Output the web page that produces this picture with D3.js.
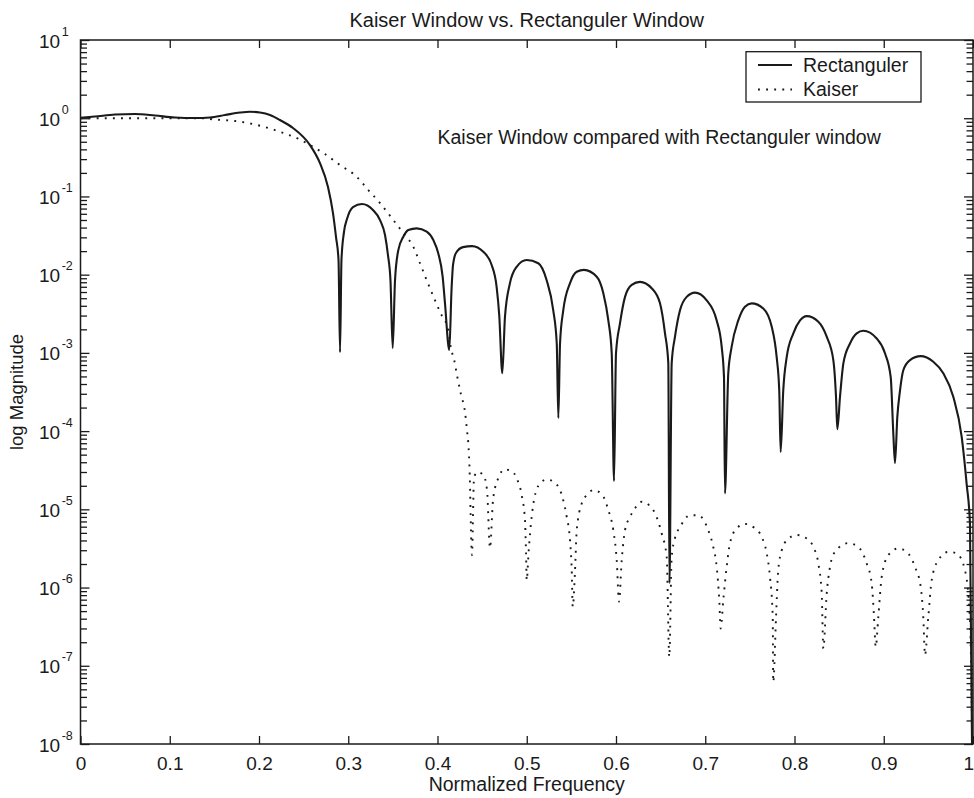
<!DOCTYPE html>
<html>
<head>
<meta charset="utf-8">
<script src="https://cdn.jsdelivr.net/npm/d3@7"></script>
<style>
  html, body { margin: 0; padding: 0; background: #fff; }
  svg { display: block; font-family: "Liberation Sans", Arial, Helvetica, sans-serif; }
</style>
</head>
<body>
<svg id="chart" width="974" height="798"></svg>
<script>
// Frequency axis ticks
const xTickValues = [0, 0.1, 0.2, 0.3, 0.4, 0.5, 0.6, 0.7, 0.8, 0.9, 1];
const xTickLabels = ["0", "0.1", "0.2", "0.3", "0.4", "0.5", "0.6", "0.7", "0.8", "0.9", "1"];
// Magnitude axis decades (10^n)
const yExponents = [-8, -7, -6, -5, -4, -3, -2, -1, 0, 1];

const seriesNames = ["Rectanguler", "Kaiser"];

// Rectangular-window response: [normalized frequency, magnitude]
const rectangular = [
  [0, 1.015], [0.0162, 1.051], [0.0387, 1.115], [0.0611, 1.132], [0.0835, 1.083], [0.1059, 1.021],
  [0.1283, 1.006], [0.1451, 1.021], [0.1619, 1.099], [0.1787, 1.183], [0.1899, 1.211], [0.2011, 1.183],
  [0.2123, 1.099], [0.2235, 0.948], [0.2381, 0.749], [0.2571, 0.454], [0.2683, 0.267], [0.2773, 0.132],
  [0.2829, 0.0613], [0.2863, 0.0303], [0.2891, 0.0154], [0.2908, 1.02e-3],
  [0.2924, 0.0154], [0.2952, 0.0351], [0.2986, 0.0514], [0.3053, 0.0732], [0.3154, 0.0799], [0.3277, 0.0670],
  [0.3356, 0.0499], [0.3412, 0.0321], [0.3445, 0.0178], [0.3473, 8.5e-3], [0.3498, 1.15e-3],
  [0.3524, 8.5e-3], [0.3561, 0.0206], [0.3617, 0.0305], [0.3673, 0.0372], [0.3767, 0.0391], [0.3879, 0.0354],
  [0.3953, 0.0277], [0.4009, 0.0187], [0.4058, 9.4e-3], [0.4084, 4.3e-3], [0.4132, 1.09e-3],
  [0.4157, 6.35e-3], [0.4174, 0.0133], [0.4207, 0.0189], [0.4286, 0.0225], [0.4387, 0.0232], [0.4513, 0.0196],
  [0.4607, 0.0133], [0.4663, 6.9e-3], [0.4692, 3.0e-3], [0.4726, 5.5e-4],
  [0.4756, 2.9e-3], [0.4812, 7.8e-3], [0.4887, 0.0126], [0.4999, 0.0154], [0.5129, 0.0140], [0.5223, 8.5e-3],
  [0.5297, 3.5e-3], [0.5336, 1.33e-3], [0.5354, 1.47e-4],
  [0.5373, 1.33e-3], [0.5409, 3.5e-3], [0.5485, 7.8e-3], [0.5560, 0.0109], [0.5641, 0.0115], [0.5784, 9.4e-3],
  [0.5858, 5.8e-3], [0.5914, 2.6e-3], [0.5952, 9.9e-4], [0.5978, 2.3e-5],
  [0.6000, 9.9e-4], [0.6045, 2.4e-3], [0.6101, 5.2e-3], [0.6176, 7.4e-3], [0.6269, 8.1e-3], [0.6400, 6.7e-3],
  [0.6493, 4.3e-3], [0.6549, 1.78e-3], [0.6586, 7.4e-4], [0.6599, 1.14e-6],
  [0.6624, 7.4e-4], [0.6661, 1.61e-3], [0.6717, 3.5e-3], [0.6792, 5.2e-3], [0.6885, 5.9e-3], [0.7016, 4.7e-3],
  [0.7128, 2.6e-3], [0.7184, 1.2e-3], [0.7210, 4.9e-4], [0.7221, 1.6e-5],
  [0.7258, 5.5e-4], [0.7296, 1.2e-3], [0.7370, 2.6e-3], [0.7445, 3.9e-3], [0.7520, 4.3e-3], [0.7650, 3.7e-3],
  [0.7745, 2.16e-3], [0.7800, 8.9e-4], [0.7829, 3.3e-4], [0.7845, 5.4e-5],
  [0.7874, 3.3e-4], [0.7913, 8.9e-4], [0.7987, 1.78e-3], [0.8062, 2.6e-3], [0.8137, 2.95e-3], [0.8267, 2.5e-3],
  [0.8361, 1.61e-3], [0.8435, 8.1e-4], [0.8465, 2.75e-4], [0.8480, 1.06e-4],
  [0.8510, 2.75e-4], [0.8547, 7.3e-4], [0.8622, 1.32e-3], [0.8697, 1.78e-3], [0.8771, 1.92e-3], [0.8921, 1.53e-3],
  [0.9014, 9.9e-4], [0.9078, 4.9e-4], [0.9107, 9.4e-5], [0.9126, 3.9e-5],
  [0.9152, 1.52e-4], [0.9182, 3.3e-4], [0.9219, 6.0e-4], [0.9294, 8.1e-4], [0.9414, 9.1e-4], [0.9555, 7.7e-4],
  [0.9667, 5.5e-4], [0.9779, 2.75e-4], [0.9873, 8.5e-5], [0.9929, 2.1e-5], [0.9966, 6.6e-6], [0.9989, 1e-8]
];

// Kaiser-window response: [normalized frequency, magnitude]
const kaiser = [
  [0, 1.0], [0.1339, 1.0], [0.1507, 0.962], [0.1731, 0.921], [0.1955, 0.831], [0.2123, 0.738],
  [0.2291, 0.637], [0.2459, 0.534], [0.2571, 0.454], [0.2739, 0.348], [0.2908, 0.252], [0.3095, 0.1786],
  [0.3225, 0.1207], [0.3356, 0.0823], [0.3505, 0.0499], [0.3617, 0.0340], [0.3729, 0.0227], [0.3804, 0.0140],
  [0.3879, 8.5e-3], [0.3953, 5.3e-3], [0.4036, 3.2e-3], [0.4121, 1.96e-3], [0.4151, 1.14e-3], [0.4185, 8.3e-4],
  [0.4222, 4.95e-4], [0.4263, 2.94e-4], [0.4308, 1.76e-4], [0.4330, 1.03e-4], [0.4349, 6.0e-5], [0.4358, 3.6e-5],
  [0.4386, 2.6e-6], [0.4409, 2.5e-5], [0.4443, 3.0e-5], [0.4510, 2.8e-5], [0.4555, 1.76e-5], [0.4588, 3.2e-6],
  [0.4622, 1.31e-5], [0.4644, 1.87e-5], [0.4681, 2.5e-5], [0.4745, 3.24e-5], [0.4831, 3.1e-5], [0.4887, 2.5e-5],
  [0.4943, 1.52e-5], [0.4980, 7.3e-6], [0.4992, 2.75e-6], [0.5000, 1.24e-6], [0.5020, 2.75e-6], [0.5055, 8.0e-6],
  [0.5081, 1.31e-5], [0.5148, 2.14e-5], [0.5224, 2.41e-5], [0.5317, 2.18e-5], [0.5409, 1.31e-5], [0.5448, 8.0e-6],
  [0.5485, 4.0e-6], [0.5504, 1.67e-6], [0.5515, 5.7e-7], [0.5541, 1.67e-6], [0.5560, 5.4e-6], [0.5616, 1.19e-5],
  [0.5672, 1.52e-5], [0.5746, 1.76e-5], [0.5840, 1.56e-5], [0.5914, 9.8e-6], [0.5970, 5.4e-6], [0.6008, 2.24e-6],
  [0.6034, 6.6e-7], [0.6064, 2.24e-6], [0.6101, 5.4e-6], [0.6157, 8.0e-6], [0.6213, 1.03e-5], [0.6288, 1.25e-5],
  [0.6381, 1.10e-5], [0.6437, 8.9e-6], [0.6512, 4.9e-6], [0.6568, 2.47e-6], [0.6597, 1.3e-7], [0.6624, 2.47e-6],
  [0.6661, 4.3e-6], [0.6717, 5.9e-6], [0.6829, 8.4e-6], [0.6922, 8.4e-6], [0.7034, 5.4e-6], [0.7090, 3.3e-6],
  [0.7128, 1.84e-6], [0.7157, 6.9e-7], [0.7173, 3.0e-7], [0.7202, 6.9e-7], [0.7240, 1.84e-6], [0.7277, 3.7e-6],
  [0.7352, 5.7e-6], [0.7445, 6.5e-6], [0.7557, 5.7e-6], [0.7632, 4.45e-6], [0.7689, 2.73e-6], [0.7725, 1.37e-6],
  [0.7756, 4.2e-7], [0.7762, 6.2e-8], [0.7793, 4.2e-7], [0.7818, 1.67e-6], [0.7857, 3.0e-6], [0.7913, 4.0e-6],
  [0.8025, 4.7e-6], [0.8137, 4.24e-6], [0.8211, 3.3e-6], [0.8267, 2.03e-6], [0.8305, 8.4e-7], [0.8323, 1.66e-7],
  [0.8361, 8.4e-7], [0.8398, 1.84e-6], [0.8454, 2.86e-6], [0.8603, 3.7e-6], [0.8715, 3.3e-6], [0.8809, 2.03e-6],
  [0.8865, 1.13e-6], [0.8891, 4.2e-7], [0.8910, 1.74e-7], [0.8939, 4.2e-7], [0.8977, 1.37e-6], [0.9051, 2.6e-6],
  [0.9163, 3.16e-6], [0.9257, 2.86e-6], [0.9350, 1.84e-6], [0.9414, 1.02e-6], [0.9443, 4.2e-7], [0.9462, 1.37e-7],
  [0.9499, 4.2e-7], [0.9537, 1.24e-6], [0.9611, 2.24e-6], [0.9723, 2.86e-6], [0.9817, 2.73e-6], [0.9910, 1.67e-6],
  [0.9966, 3.8e-7], [0.9989, 2.0e-8]
];

const ink = "#1a1a1a";
const svg = d3.select("#chart");

const plot = { left: 80.5, right: 973, top: 40, bottom: 744 };
const x = d3.scaleLinear().domain([0, 1]).range([plot.left, plot.right]);
const y = d3.scaleLog().domain([1e-8, 10]).range([plot.bottom, plot.top]);

const decadeValues = yExponents.map(e => Math.pow(10, e));
const minorValues = [];
yExponents.slice(0, -1).forEach(e => {
  for (let k = 2; k <= 9; k++) minorValues.push(k * Math.pow(10, e));
});

svg.append("defs").append("clipPath").attr("id", "plot-clip")
  .append("rect")
  .attr("x", plot.left).attr("y", plot.top)
  .attr("width", plot.right - plot.left).attr("height", plot.bottom - plot.top);

// Curves
const line = d3.line().x(d => x(d[0])).y(d => y(d[1])).curve(d3.curveMonotoneX);
const curves = svg.append("g").attr("clip-path", "url(#plot-clip)");
curves.append("path")
  .datum(rectangular)
  .attr("d", line)
  .attr("fill", "none")
  .attr("stroke", ink)
  .attr("stroke-width", 2.1)
  .attr("stroke-linejoin", "round");
curves.append("path")
  .datum(kaiser)
  .attr("d", line)
  .attr("fill", "none")
  .attr("stroke", ink)
  .attr("stroke-width", 1.9)
  .attr("stroke-dasharray", "1.9,6.2");

// Axes with inward ticks
function styleAxis(g) {
  g.select(".domain").remove();
  g.selectAll(".tick line").attr("stroke", ink).attr("stroke-width", 1.3);
  g.selectAll(".tick text").attr("fill", ink).attr("font-size", 19)
    .attr("font-family", "'Liberation Sans', Arial, Helvetica, sans-serif");
}

const bottomAxis = svg.append("g").attr("transform", `translate(0,${plot.bottom})`)
  .call(d3.axisBottom(x).tickValues(xTickValues).tickFormat((d, i) => xTickLabels[i])
    .tickSizeInner(-8).tickSizeOuter(0).tickPadding(12.5))
  .call(styleAxis);
// keep the last label inside the page edge
bottomAxis.selectAll(".tick text").filter(d => d === 1).attr("text-anchor", "end").attr("dx", 0.5);

svg.append("g").attr("transform", `translate(0,${plot.top})`)
  .call(d3.axisTop(x).tickValues(xTickValues).tickFormat("").tickSizeInner(-8).tickSizeOuter(0))
  .call(styleAxis);

[[plot.left, d3.axisLeft], [plot.right, d3.axisRight]].forEach(([px, axisFn]) => {
  svg.append("g").attr("transform", `translate(${px},0)`)
    .call(axisFn(y).tickValues(decadeValues).tickFormat("").tickSizeInner(-9).tickSizeOuter(0))
    .call(styleAxis);
  svg.append("g").attr("transform", `translate(${px},0)`)
    .call(axisFn(y).tickValues(minorValues).tickFormat("").tickSizeInner(-6.5).tickSizeOuter(0))
    .call(styleAxis);
});

// Decade labels: 10 with superscript exponent
const yLabels = svg.append("g").attr("fill", ink).attr("font-size", 19);
yExponents.forEach(e => {
  const t = yLabels.append("text").attr("x", 39).attr("y", y(Math.pow(10, e)) + 7.5);
  t.append("tspan").text("10");
  t.append("tspan").attr("dx", 1.5).attr("dy", -12).attr("font-size", 12.5).text(String(e));
});

// Axes box
svg.append("rect")
  .attr("x", plot.left).attr("y", plot.top)
  .attr("width", plot.right - plot.left).attr("height", plot.bottom - plot.top)
  .attr("fill", "none").attr("stroke", ink).attr("stroke-width", 1.5);

// Titles
svg.append("text").attr("x", (plot.left + plot.right) / 2).attr("y", 26.5)
  .attr("text-anchor", "middle").attr("font-size", 20).attr("fill", ink)
  .text("Kaiser Window vs. Rectanguler Window");
svg.append("text").attr("x", (plot.left + plot.right) / 2).attr("y", 790.5)
  .attr("text-anchor", "middle").attr("font-size", 19.5).attr("fill", ink)
  .text("Normalized Frequency");
svg.append("text")
  .attr("transform", `translate(23,${(plot.top + plot.bottom) / 2}) rotate(-90)`)
  .attr("text-anchor", "middle").attr("font-size", 18.5).attr("fill", ink)
  .text("log Magnitude");

// Annotation
svg.append("text").attr("x", x(0.4)).attr("y", y(0.5) + 2.5)
  .attr("font-size", 19.5).attr("fill", ink)
  .text("Kaiser Window compared with Rectanguler window");

// Legend
const legend = svg.append("g");
legend.append("rect").attr("x", 746).attr("y", 51.7).attr("width", 175).attr("height", 50.3)
  .attr("fill", "#fff").attr("stroke", ink).attr("stroke-width", 1.3);
const legendRows = [
  { name: seriesNames[0], y: 65, dash: null },
  { name: seriesNames[1], y: 89.5, dash: "1.9,6.2" }
];
legendRows.forEach(r => {
  legend.append("line").attr("x1", 758).attr("x2", 792).attr("y1", r.y).attr("y2", r.y)
    .attr("stroke", ink).attr("stroke-width", 1.9).attr("stroke-dasharray", r.dash);
  legend.append("text").attr("x", 803).attr("y", r.y + 6.7)
    .attr("font-size", 19.5).attr("fill", ink).text(r.name);
});
</script>
</body>
</html>
